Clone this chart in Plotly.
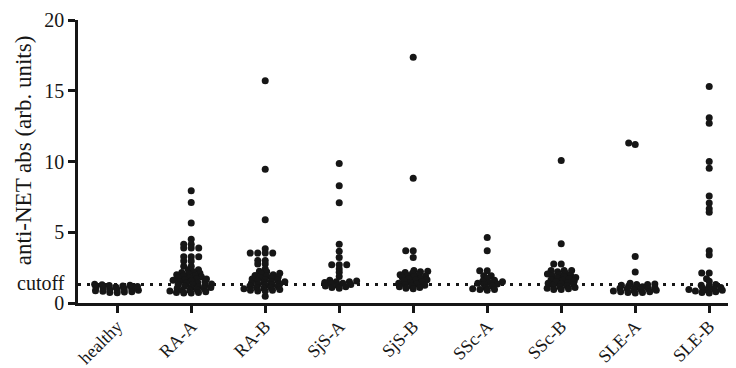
import numpy as np
import plotly.graph_objects as go

categories = ["healthy", "RA-A", "RA-B", "SjS-A", "SjS-B", "SSc-A", "SSc-B", "SLE-A", "SLE-B"]

healthy = [0.72, 0.75, 0.78, 0.8, 0.83, 0.86, 0.9, 0.93, 0.96, 1.0, 1.03, 1.06, 1.1, 1.13,
           1.16, 1.2, 1.23, 1.26, 1.29, 1.32]
ra_a = [7.93, 7.1, 5.65, 4.5, 4.16, 4.16, 3.88, 3.88, 3.88, 3.27, 3.27, 3.27, 2.96, 2.96, 2.59, 2.59,
        2.35, 2.35,
        2.2, 2.15, 2.1, 2.05, 2.0, 1.95, 1.9, 1.85, 1.8, 1.75, 1.7, 1.7, 1.65, 1.6,
        1.55, 1.5, 1.5, 1.45, 1.4, 1.35, 1.3, 1.3, 1.25, 1.2, 1.15, 1.1, 1.1, 1.05, 1.0,
        0.95, 0.9, 0.9, 0.85, 0.8, 0.75, 0.75, 0.7, 0.7]
ra_b = [15.7, 9.45, 5.88, 3.83, 3.53, 3.53, 3.53, 3.53, 3.0, 3.0, 2.75, 2.75, 2.4, 0.47,
        2.25, 2.2, 2.1, 2.05, 2.0, 1.95, 1.9, 1.85, 1.8, 1.75, 1.7, 1.65, 1.6, 1.55, 1.5, 1.5,
        1.45, 1.4, 1.35, 1.3, 1.3, 1.25, 1.2, 1.15, 1.1, 1.1, 1.05, 1.0, 0.95, 0.9, 0.9, 0.85, 0.85]
sjs_a = [9.86, 8.28, 7.08, 4.16, 3.65, 3.22, 2.7, 2.7, 2.7, 2.4, 2.17, 1.88, 1.6, 1.55, 1.5, 1.5,
         1.45, 1.4, 1.35, 1.3, 1.25, 1.2, 1.15, 1.1, 1.05]
sjs_b = [17.36, 8.82, 3.69, 3.69, 3.22,
         2.3, 2.25, 2.2, 2.15, 2.1, 2.0, 2.0, 1.95, 1.9, 1.85, 1.8, 1.75, 1.7, 1.65, 1.6, 1.55,
         1.5, 1.45, 1.4, 1.35, 1.3, 1.25, 1.2, 1.15, 1.1, 1.05, 1.0]
ssc_a = [4.63, 3.69, 2.28, 2.28, 1.93, 1.93, 1.75, 1.6, 1.55, 1.5, 1.45, 1.4, 1.35, 1.3, 1.2, 1.1,
         1.0, 0.95, 0.95, 0.9]
ssc_b = [10.07, 4.19, 2.75, 2.75, 2.3, 2.3, 2.3, 2.2, 2.1, 2.05, 2.0, 1.95, 1.9, 1.85, 1.8, 1.75,
         1.7, 1.65, 1.6, 1.55, 1.5, 1.45, 1.4, 1.35, 1.3, 1.25, 1.2, 1.15, 1.1, 1.05, 1.0, 0.95, 0.95]
sle_a = [11.3, 11.2, 3.29, 2.19, 1.4, 1.35, 1.3, 1.3, 1.25, 1.2, 1.15, 1.1, 1.1, 1.05, 1.0, 1.0,
         0.95, 0.9, 0.9, 0.85, 0.8, 0.8, 0.75, 0.75, 0.7]
sle_b = [15.3, 13.1, 12.7, 10.0, 9.53, 7.57, 7.06, 6.66, 6.42, 3.69, 3.39, 2.12, 2.12, 1.72, 1.53,
         1.3, 1.25, 1.2, 1.1, 1.05, 1.0, 0.95, 0.9, 0.9, 0.85, 0.8, 0.75, 0.7]

series = [healthy, ra_a, ra_b, sjs_a, sjs_b, ssc_a, ssc_b, sle_a, sle_b]
cutoff = 1.3
y_ticks = [0, 5, 10, 15, 20]
y_title = "anti-NET abs (arb. units)"

W, H = 736, 368
ML, MR, MT, MB = 70, 0, 12, 73
X_RANGE = [-0.53, 8.47]
Y_RANGE = [0, 20]
PX_X = (W - ML - MR) / (X_RANGE[1] - X_RANGE[0])
PX_Y = (H - MT - MB) / (Y_RANGE[1] - Y_RANGE[0])
D = 7.5          # horizontal spacing between neighbouring markers (px)
Y_STRETCH = 2.6  # allows vertical overlap like the Prism-style swarm


def swarm(vals):
    vals = np.asarray(vals, dtype=float)
    order = np.argsort(vals, kind="stable")
    placed = []
    offs = np.zeros(len(vals))
    for i in order:
        y = vals[i] * PX_Y * Y_STRETCH
        cands = [0.0]
        for px, py in placed:
            dy = abs(py - y)
            if dy < D:
                dx = np.sqrt(D * D - dy * dy)
                cands += [px + dx, px - dx]
        cands.sort(key=lambda c: (abs(c), c))
        chosen = 0.0
        for c in cands:
            if all((c - px) ** 2 + (y - py) ** 2 >= D * D - 1e-6 for px, py in placed):
                chosen = c
                break
        placed.append((chosen, y))
        offs[i] = chosen / PX_X
    return offs


FONT = "Liberation Serif, Times New Roman, serif"
INK = "#161616"
fig = go.Figure()
for idx, (cat, vals) in enumerate(zip(categories, series)):
    offs = swarm(vals)
    fig.add_trace(go.Scatter(
        x=idx + offs, y=vals, mode="markers", name=cat,
        marker=dict(size=7, color=INK, line=dict(width=0)),
        cliponaxis=False, showlegend=False,
    ))

fig.add_shape(type="line", xref="paper", yref="y", x0=0, x1=1, y0=cutoff, y1=cutoff,
              line=dict(color=INK, width=3, dash="3px,6px"), layer="below")
fig.add_annotation(text="cutoff", xref="paper", yref="y", x=0, y=cutoff, xanchor="right",
                   yanchor="middle", xshift=-11, yshift=2, showarrow=False,
                   font=dict(family=FONT, size=20, color=INK))
fig.add_annotation(text=y_title, xref="paper", yref="paper", x=0, y=0.54, xshift=-55,
                   xanchor="center", yanchor="middle", textangle=-90, showarrow=False,
                   font=dict(family=FONT, size=23, color=INK))

fig.update_layout(
    width=W, height=H, margin=dict(l=ML, r=MR, t=MT, b=MB),
    plot_bgcolor="white", paper_bgcolor="white",
    font=dict(family=FONT, color=INK),
    xaxis=dict(range=X_RANGE, tickmode="array", tickvals=list(range(len(categories))),
               ticktext=categories, tickangle=-45, ticks="outside", ticklen=7, tickwidth=2.5,
               tickcolor=INK, showline=True, linewidth=2.5, linecolor=INK,
               showgrid=False, zeroline=False, tickfont=dict(size=18, family=FONT),
               ticklabelstandoff=-4),
    yaxis=dict(range=Y_RANGE, tickmode="array", tickvals=y_ticks,
               ticktext=[str(v) for v in y_ticks], ticks="outside", ticklen=7, tickwidth=2.5,
               tickcolor=INK, showline=True, linewidth=2.5, linecolor=INK,
               showgrid=False, zeroline=False, tickfont=dict(size=20, family=FONT)),
)

fig.write_html("out.html")
